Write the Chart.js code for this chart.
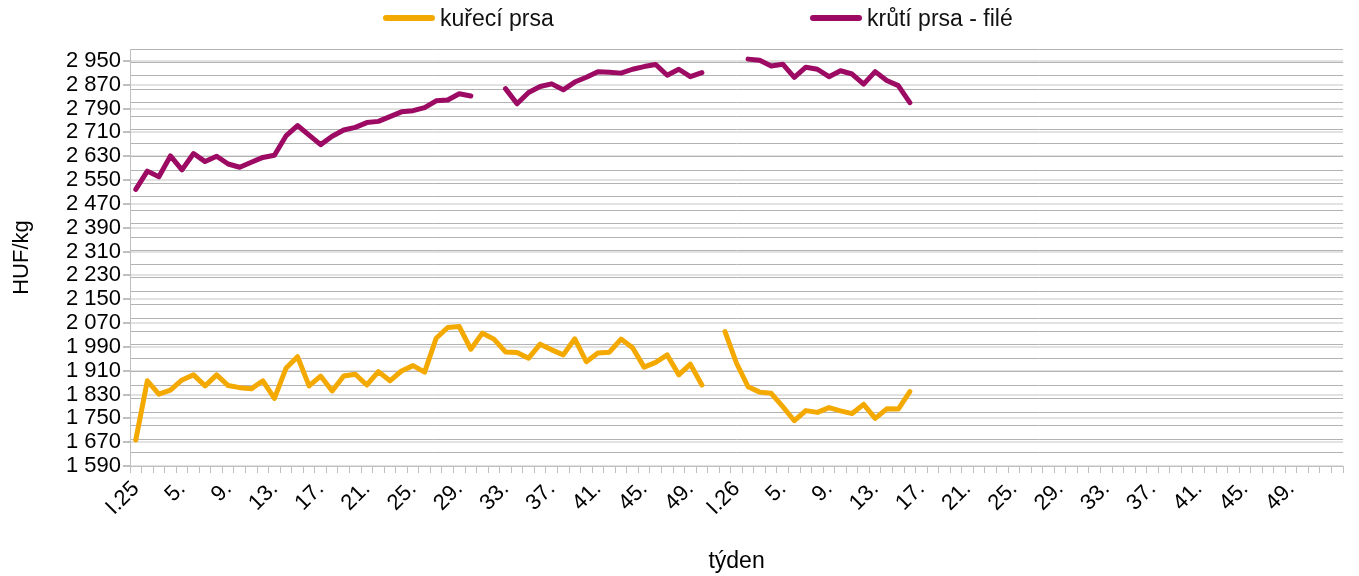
<!DOCTYPE html>
<html>
<head>
<meta charset="utf-8">
<script src="https://cdn.jsdelivr.net/npm/chart.js@4/dist/chart.umd.min.js"></script>
<style>
  html, body { margin: 0; padding: 0; background: #fff; }
  #wrap { position: relative; width: 1359px; height: 576px; font-family: "Liberation Sans", Arial, sans-serif; }
  #legend { position: absolute; top: 3px; left: 0; width: 1359px; height: 30px; }
  .item { position: absolute; top: 0; display: flex; align-items: center; font-size: 23px; color: #111; height: 30px; }
  .swatch { width: 52px; height: 6px; border-radius: 3px; margin-right: 5px; }
</style>
</head>
<body>
<div id="wrap">
  <div id="legend"></div>
  <canvas id="chart" width="1359" height="576"></canvas>
</div>
<script>
// week categories: 52 weeks of 2025, 53 weeks of 2026
const weeks2025 = 52;
const weeks2026 = 53;
const weekLabels = [];
for (let w = 1; w <= weeks2025; w++) weekLabels.push(w === 1 ? 'I.25' : w + '.');
for (let w = 1; w <= weeks2026; w++) weekLabels.push(w === 1 ? 'I.26' : (w === 53 ? '' : w + '.'));

// HUF/kg
const kureciPrsa = [
  1677, 1876, 1831, 1845, 1879, 1896, 1859, 1896, 1860, 1853,
  1849, 1876, 1817, 1918, 1957, 1859, 1892, 1842, 1892, 1898,
  1862, 1907, 1876, 1909, 1927, 1905, 2019, 2055, 2058, 1982,
  2036, 2016, 1973, 1971, 1952, 1999, 1980, 1963, 2017, 1940,
  1969, 1972, 2016, 1987, 1922, 1938, 1963, 1896, 1932, 1862,
  null, 2041, 1935, 1856, 1838, 1834, 1789, 1742, 1776, 1770,
  1786, 1775, 1766, 1797, 1750, 1782, 1781, 1840
];
const krutiPrsa = [
  2519, 2580, 2561, 2631, 2584, 2639, 2612, 2630, 2604, 2593,
  2610, 2626, 2633, 2698, 2733, 2701, 2669, 2697, 2718, 2727,
  2743, 2747, 2763, 2779, 2783, 2793, 2816, 2819, 2840, 2832,
  null, null, 2857, 2806, 2844, 2864, 2873, 2853, 2879, 2895,
  2914, 2912, 2909, 2922, 2931, 2938, 2902, 2922, 2897, 2911,
  null, null, null, 2956, 2952, 2933, 2939, 2895, 2929, 2922,
  2897, 2917, 2906, 2872, 2914, 2884, 2867, 2810
];

const yTicks = [];
for (let v = 1590; v <= 2950; v += 80) yTicks.push(v);

const series = [
  { label: 'kuřecí prsa', data: kureciPrsa, color: '#f4a900', left: 383 },
  { label: 'krůtí prsa - filé', data: krutiPrsa, color: '#9c0a64', left: 810 }
];

// html legend
const legendEl = document.getElementById('legend');
series.forEach(s => {
  const item = document.createElement('div');
  item.className = 'item';
  item.style.left = s.left + 'px';
  item.innerHTML = '<span class="swatch" style="background:' + s.color + '"></span>' + s.label;
  legendEl.appendChild(item);
});

function fmt(v) {
  return String(v).replace(/\B(?=(\d{3})+(?!\d))/g, ' ');
}

Chart.defaults.font.family = '"Liberation Sans", Arial, sans-serif';
Chart.defaults.color = '#000';

new Chart(document.getElementById('chart').getContext('2d'), {
  type: 'line',
  data: {
    labels: weekLabels,
    datasets: series.map(s => ({
      label: s.label,
      data: s.data,
      borderColor: s.color,
      backgroundColor: s.color,
      borderWidth: 5,
      pointRadius: 0,
      tension: 0,
      spanGaps: false,
      borderCapStyle: 'round',
      borderJoinStyle: 'round'
    }))
  },
  options: {
    responsive: false,
    animation: false,
    layout: { padding: { top: 49, right: 5, left: 0, bottom: 0 } },
    plugins: {
      legend: { display: false },
      tooltip: { enabled: false }
    },
    scales: {
      x: {
        offset: true,
        grid: {
          offset: true,
          drawOnChartArea: false,
          drawTicks: true,
          tickLength: 7,
          color: '#bfbfbf'
        },
        border: { color: '#bfbfbf', width: 1 },
        ticks: {
          autoSkip: false,
          maxRotation: 45,
          minRotation: 45,
          padding: 3,
          font: { size: 22 },
          callback: function (val, i) {
            return i % 4 === 0 ? weekLabels[i] : '';
          }
        },
        title: {
          display: true,
          text: 'týden',
          font: { size: 23 },
          padding: { top: 0, bottom: 1 }
        },
        afterFit: function (scale) { scale.height = 110; }
      },
      y: {
        min: 1590,
        max: 2990,
        afterBuildTicks: function (scale) {
          scale.ticks = yTicks.map(v => ({ value: v }));
        },
        grid: {
          color: '#e2e2e2',
          lineWidth: 2,
          drawTicks: true,
          tickLength: 7,
          tickColor: '#bfbfbf'
        },
        border: { color: '#bfbfbf', width: 1 },
        ticks: {
          autoSkip: false,
          padding: 2,
          font: { size: 22 },
          callback: function (v) { return fmt(v); }
        },
        title: {
          display: true,
          text: 'HUF/kg',
          font: { size: 22 },
          padding: { top: 9, bottom: 0 }
        },
        afterFit: function (scale) { scale.width = 130; }
      },
      y2: {
        position: 'left',
        min: 0,
        max: 31,
        ticks: { display: false, stepSize: 1 },
        grid: { color: '#b3b3b3', lineWidth: 1, drawTicks: false },
        border: { display: false },
        afterFit: function (scale) { scale.width = 0; }
      }
    }
  }
});
</script>
</body>
</html>
